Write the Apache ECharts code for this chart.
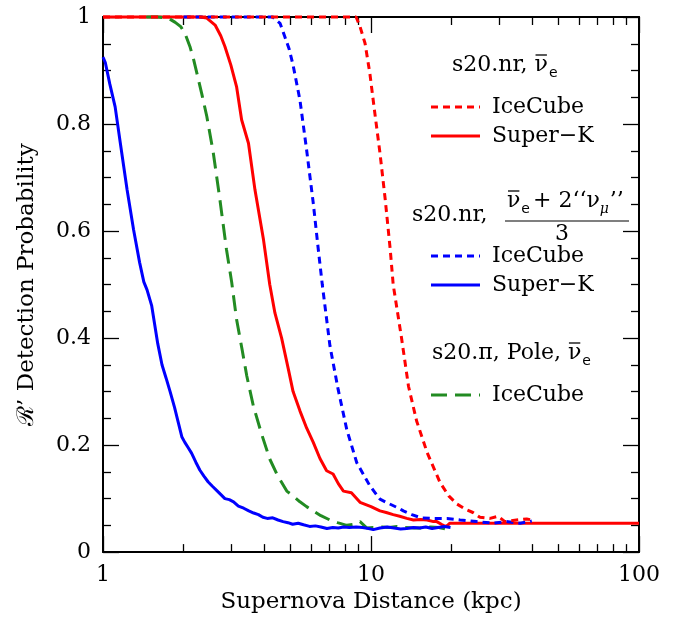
<!DOCTYPE html>
<html><head><meta charset="utf-8">
<script src="https://cdn.jsdelivr.net/npm/echarts@6/dist/echarts.min.js"></script>
<style>html,body{margin:0;padding:0;background:#fff}#c{width:676px;height:619px}</style>
</head><body><div id="c"></div><script>
// ---- data ----
const xTickLabels = [1, 10, 100];
const xMinorTicks = [2, 3, 4, 5, 6, 7, 8, 9, 20, 30, 40, 50, 60, 70, 80, 90];
const yTickLabels = [0, 0.2, 0.4, 0.6, 0.8, 1];

const redDashed = [[1,1],[8.8,1],[9.1,0.982],[9.5,0.951],[9.9,0.895],[10.3,0.826],[10.8,0.746],[11.3,0.659],[11.8,0.565],[12.1,0.50],[13.0,0.40],[13.8,0.31],[14.8,0.245],[16.2,0.186],[18.1,0.130],[19.5,0.105],[20.9,0.09],[22.5,0.08],[24.0,0.074],[25.5,0.065],[27.8,0.063],[29.8,0.067],[31.6,0.057],[34.9,0.060],[38.1,0.062],[39.8,0.060]];
const redSolid = [[1,1],[2.3,1],[2.44,0.998],[2.62,0.985],[2.75,0.965],[2.85,0.945],[3.0,0.91],[3.15,0.87],[3.29,0.808],[3.49,0.764],[3.69,0.677],[3.97,0.584],[4.19,0.50],[4.38,0.447],[4.64,0.40],[4.92,0.341],[5.12,0.30],[5.43,0.264],[5.75,0.232],[6.09,0.205],[6.45,0.175],[6.83,0.152],[7.22,0.146],[7.55,0.128],[7.89,0.114],[8.45,0.111],[9.1,0.093],[10.0,0.085],[10.8,0.077],[11.4,0.074],[12.1,0.070],[12.8,0.067],[13.6,0.063],[14.4,0.060],[15.3,0.061],[16.2,0.060],[17.1,0.057],[17.6,0.057],[18.3,0.052],[18.9,0.048],[19.3,0.050],[19.7,0.054],[20,0.054],[40,0.054],[100,0.054]];
const blueDashed = [[2.0,1],[4.3,1],[4.58,0.988],[4.77,0.963],[4.95,0.94],[5.12,0.91],[5.43,0.845],[5.75,0.752],[6.09,0.652],[6.36,0.565],[6.58,0.50],[7.03,0.385],[7.54,0.304],[8.12,0.229],[8.85,0.167],[9.9,0.124],[10.8,0.099],[11.4,0.093],[12.8,0.081],[13.2,0.077],[14.2,0.070],[15.4,0.064],[17,0.063],[19.2,0.063],[21.5,0.060],[24.8,0.057],[28.6,0.054],[32,0.057],[36,0.054],[39.8,0.058]];
const blueSolid = [[1.0,0.925],[1.02,0.915],[1.06,0.875],[1.11,0.832],[1.16,0.765],[1.23,0.677],[1.30,0.603],[1.37,0.541],[1.42,0.505],[1.46,0.49],[1.52,0.46],[1.6,0.39],[1.66,0.35],[1.72,0.325],[1.78,0.30],[1.85,0.27],[1.91,0.242],[1.97,0.215],[2.02,0.205],[2.08,0.195],[2.14,0.185],[2.22,0.168],[2.3,0.153],[2.38,0.142],[2.47,0.131],[2.56,0.123],[2.66,0.115],[2.76,0.107],[2.85,0.100],[2.96,0.098],[3.07,0.094],[3.2,0.086],[3.35,0.082],[3.5,0.077],[3.65,0.073],[3.8,0.070],[3.95,0.065],[4.1,0.063],[4.3,0.064],[4.5,0.060],[4.7,0.057],[4.9,0.055],[5.1,0.052],[5.35,0.054],[5.6,0.051],[5.9,0.048],[6.2,0.049],[6.5,0.047],[6.85,0.044],[7.2,0.046],[7.55,0.045],[7.9,0.047],[8.3,0.046],[8.8,0.047],[9.3,0.046],[9.8,0.044],[10.2,0.042],[10.8,0.045],[11.5,0.047],[12.2,0.045],[12.9,0.043],[13.6,0.044],[14.4,0.046],[15.2,0.045],[16.0,0.047],[16.9,0.044],[17.8,0.046],[18.8,0.048],[19.8,0.046]];
const greenDashed = [[1.45,1],[1.6,1],[1.75,0.998],[1.86,0.99],[1.95,0.982],[2.02,0.97],[2.11,0.945],[2.18,0.92],[2.24,0.895],[2.34,0.855],[2.44,0.814],[2.58,0.746],[2.73,0.659],[2.89,0.565],[3.02,0.505],[3.15,0.435],[3.3,0.38],[3.44,0.329],[3.64,0.273],[3.91,0.220],[4.19,0.174],[4.45,0.146],[4.85,0.114],[5.12,0.105],[5.43,0.094],[5.75,0.085],[6.09,0.077],[6.5,0.068],[7.03,0.060],[7.5,0.055],[8.12,0.050],[8.6,0.052],[9.1,0.057],[9.65,0.045],[10.3,0.046],[11.0,0.047],[11.7,0.046],[12.5,0.048],[13.4,0.046],[14.5,0.045],[15.6,0.045],[16.7,0.047],[17.9,0.046],[19.0,0.043],[19.8,0.044]];

// ---- style ----
const SERIF = '"DejaVu Serif", serif';
const FS = 22;
const RED = '#ff0000', BLUE = '#0000ff', GREEN = '#228b22';
const SHORT_DASH = [7, 5], LONG_DASH = [16, 8];

const mctx = document.createElement('canvas').getContext('2d');
function row(x, y, pieces) {
  let cx = x; const els = [];
  for (const p of pieces) {
    const font = (p.style || '') + ' ' + (p.size || FS) + 'px ' + (p.family || SERIF);
    mctx.font = font;
    const w = mctx.measureText(p.t).width;
    els.push({type: 'text', x: cx, y: y + (p.dy || 0), z: 100,
      style: {text: p.t, font: font, fill: '#000', verticalAlign: 'middle', align: 'left'}});
    if (p.bar) els.push({type: 'line', z: 100, shape: {x1: cx + 1, y1: y - 10, x2: cx + w - 1, y2: y - 10},
      style: {stroke: '#000', lineWidth: 1.3}});
    cx += w + (p.gap || 0);
  }
  return els;
}
function legendLine(y, color, dash) {
  return {type: 'line', z: 100, shape: {x1: 431, y1: y, x2: 480, y2: y},
    style: {stroke: color, lineWidth: 3, lineDash: dash}};
}
const SUB = {size: 14, family: '"DejaVu Sans", sans-serif', dy: 8};

const graphics = [].concat(
  row(452, 65, [{t: 's20.nr, '}, {t: 'ν', bar: true, gap: 1}, Object.assign({t: 'e'}, SUB)]),
  [legendLine(107, RED, SHORT_DASH)], row(492, 107, [{t: 'IceCube'}]),
  [legendLine(136, RED, null)], row(492, 136, [{t: 'Super−K'}]),
  row(412, 215, [{t: 's20.nr,'}]),
  row(507, 201, [{t: 'ν', bar: true, gap: 1}, Object.assign({t: 'e', gap: 3}, SUB), {t: '+ 2‘‘ν'},
                 {t: 'μ', size: 14, style: 'italic', dy: 8, gap: 1}, {t: '’’'}]),
  [{type: 'line', z: 100, shape: {x1: 505, y1: 221, x2: 629, y2: 221}, style: {stroke: '#555', lineWidth: 1.5}},
   {type: 'text', z: 100, x: 562, y: 234, style: {text: '3', font: FS + 'px ' + SERIF, fill: '#000', align: 'center', verticalAlign: 'middle'}}],
  [legendLine(256, BLUE, SHORT_DASH)], row(492, 256, [{t: 'IceCube'}]),
  [legendLine(285, BLUE, null)], row(492, 285, [{t: 'Super−K'}]),
  row(432, 353, [{t: 's20.π, Pole, '}, {t: 'ν', bar: true, gap: 1}, Object.assign({t: 'e'}, SUB)]),
  [legendLine(395, GREEN, LONG_DASH)], row(492, 395, [{t: 'IceCube'}])
);

function mkX(position, major, showLine) {
  return {
    type: 'log', logBase: 10, min: 1, max: 100, position: position,
    axisLine: {show: showLine, lineStyle: {color: '#000', width: 2}},
    axisTick: {show: true, inside: true, length: major ? 16 : 8, lineStyle: {color: '#000', width: 1.3},
      customValues: major ? xTickLabels : xMinorTicks},
    axisLabel: {show: major && position === 'bottom', customValues: xTickLabels, margin: 12,
      color: '#000', fontFamily: SERIF, fontSize: FS},
    splitLine: {show: false}
  };
}
function mkY(position) {
  return {
    type: 'value', min: 0, max: 1, interval: 0.2, position: position,
    axisLine: {show: true, lineStyle: {color: '#000', width: 2}},
    axisTick: {show: true, inside: true, length: 16, lineStyle: {color: '#000', width: 1.3}},
    minorTick: {show: true, splitNumber: 4, length: 8, lineStyle: {color: '#000', width: 1.3}},
    axisLabel: {show: position === 'left', margin: 12, color: '#000', fontFamily: SERIF, fontSize: FS,
      customValues: yTickLabels},
    splitLine: {show: false}
  };
}
const xAxes = [mkX('bottom', true, true), mkX('bottom', false, false), mkX('top', true, true), mkX('top', false, false)];
xAxes[0].name = 'Supernova Distance (kpc)';
xAxes[0].nameLocation = 'middle';
xAxes[0].nameGap = 38;
xAxes[0].nameTextStyle = {color: '#000', fontFamily: SERIF, fontSize: 23};
const yAxes = [mkY('left'), mkY('right')];
yAxes[0].name = 'ℛ’ Detection Probability';
yAxes[0].nameLocation = 'middle';
yAxes[0].nameGap = 64;
yAxes[0].nameTextStyle = {color: '#000', fontFamily: SERIF, fontSize: 23};

function line(data, color, dash, z) {
  return {type: 'line', data: data, xAxisIndex: 0, yAxisIndex: 0, showSymbol: false, symbol: 'none',
    clip: false, z: z, animation: false,
    lineStyle: {color: color, width: 3, type: dash || 'solid'}};
}
const chart = echarts.init(document.getElementById('c'), null, {renderer: 'canvas'});
chart.setOption({
  animation: false,
  grid: {left: 103, right: 37, top: 17, bottom: 66, containLabel: false},
  xAxis: xAxes, yAxis: yAxes,
  series: [
    line(redSolid, RED, null, 2),
    line(greenDashed, GREEN, LONG_DASH, 3),
    line(blueSolid, BLUE, null, 4),
    line(blueDashed, BLUE, SHORT_DASH, 5),
    line(redDashed, RED, SHORT_DASH, 6)
  ],
  graphic: graphics
});
</script></body></html>
